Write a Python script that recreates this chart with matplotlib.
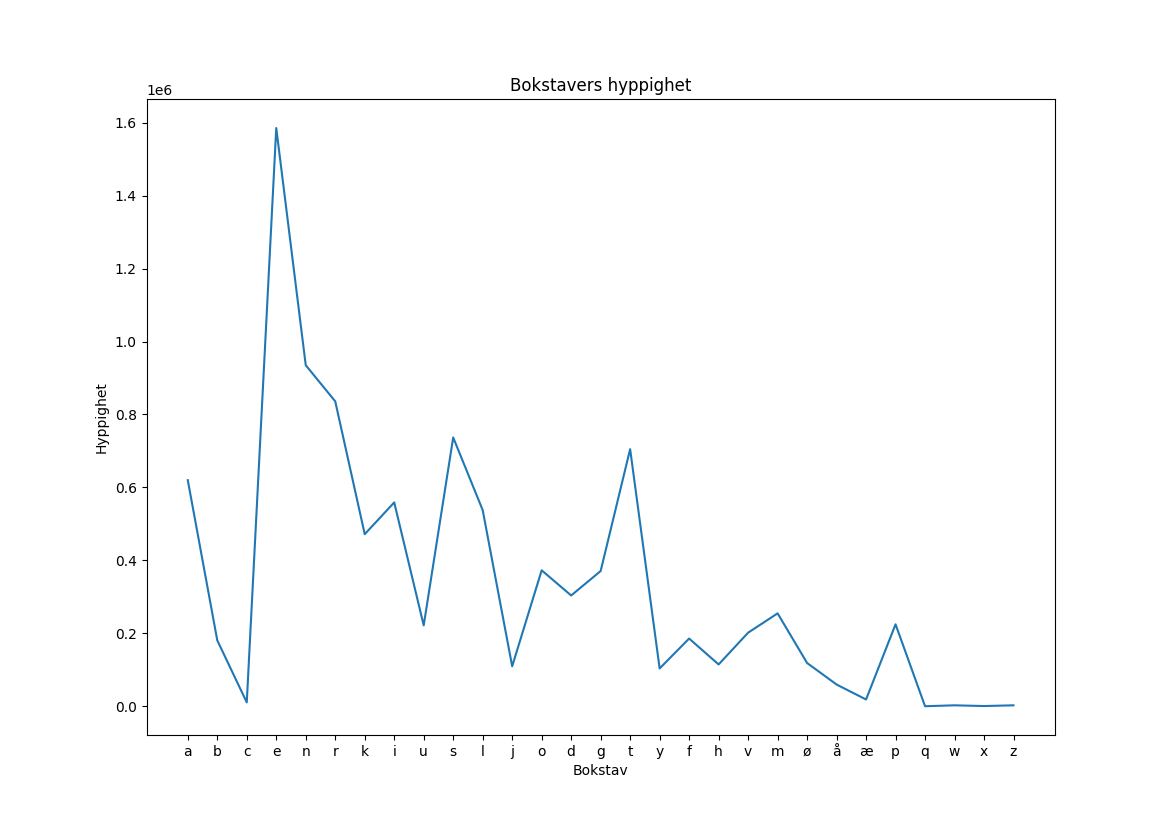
import matplotlib
matplotlib.use("Agg")
import matplotlib.pyplot as plt

bokstaver = ["a", "b", "c", "e", "n", "r", "k", "i", "u", "s", "l", "j", "o", "d",
             "g", "t", "y", "f", "h", "v", "m", "ø", "å", "æ", "p", "q", "w", "x", "z"]
hyppighet = [620000, 181000, 11000, 1585000, 935000, 836000, 472000, 559000, 222000,
             737000, 538000, 110000, 373000, 304000, 371000, 705000, 104000, 186000,
             115000, 202000, 255000, 119000, 60000, 19000, 225000, 500, 3000, 1000, 3000]

fig, ax = plt.subplots(figsize=(11.72, 8.26), dpi=100)
ax.plot(bokstaver, hyppighet)
ax.set_title("Bokstavers hyppighet")
ax.set_xlabel("Bokstav")
ax.set_ylabel("Hyppighet")
fig.savefig("out.png", dpi=100)
